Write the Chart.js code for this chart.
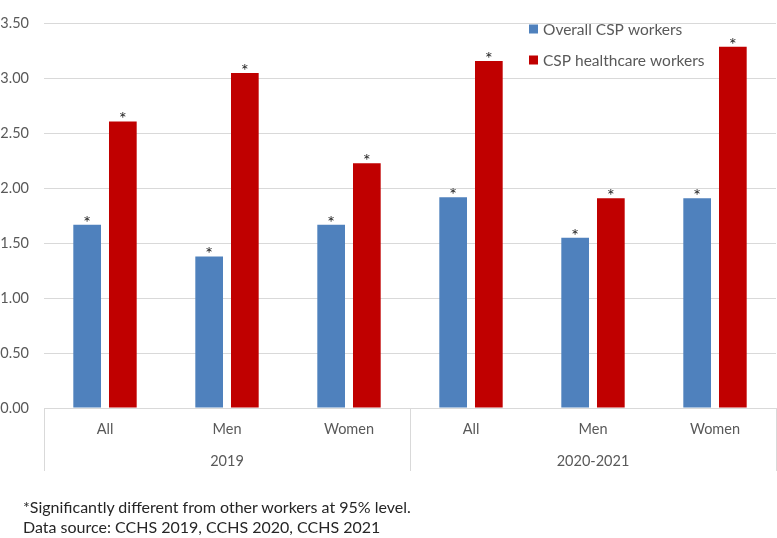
<!DOCTYPE html>
<html>
<head>
<meta charset="utf-8">
<script src="https://cdn.jsdelivr.net/npm/chart.js@4.4.1/dist/chart.umd.min.js"></script>
<style>
  html, body { margin: 0; padding: 0; background: #fff; }
  #wrap { position: relative; width: 777px; height: 538px; overflow: hidden; }
  canvas { position: absolute; left: 0; top: 0; }
  .note { position: absolute; left: 23px; font-family: Lato, "Open Sans", sans-serif; font-size: 16px; color: #262626; white-space: nowrap; line-height: 20px; }
</style>
</head>
<body>
<div id="wrap">
  <canvas id="c" width="777" height="538"></canvas>
  <div class="note" id="n1" style="top:497px">*Significantly different from other workers at 95% level.</div>
  <div class="note" id="n2" style="top:517px">Data source: CCHS 2019, CCHS 2020, CCHS 2021</div>
</div>
<script>
const categories = ['All', 'Men', 'Women', 'All', 'Men', 'Women'];
const groups = ['2019', '2020-2021'];
const groupSizes = [3, 3];
const seriesNames = ['Overall CSP workers', 'CSP healthcare workers'];
const overallCSP = [1.67, 1.38, 1.67, 1.92, 1.55, 1.91];
const healthcareCSP = [2.61, 3.05, 2.23, 3.16, 1.91, 3.29];
const overallMarks = ['*', '*', '*', '*', '*', '*'];
const healthcareMarks = ['*', '*', '*', '*', '*', '*'];
const yMin = 0, yMax = 3.5, yStep = 0.5;

const FONT = 'Lato, "Open Sans", sans-serif';
const GRID = '#d9d9d9';
const TXT = '#595959';

const markPlugin = {
  id: 'marks',
  afterDatasetsDraw(chart) {
    const ctx = chart.ctx;
    ctx.save();
    ctx.fillStyle = '#1a1a1a';
    ctx.font = '18px ' + FONT;
    ctx.textAlign = 'center';
    ctx.textBaseline = 'alphabetic';
    chart.data.datasets.forEach((ds, di) => {
      const meta = chart.getDatasetMeta(di);
      meta.data.forEach((bar, i) => {
        const m = ds.marks[i];
        if (m) ctx.fillText(m, bar.x, bar.y + 4);
      });
    });
    ctx.restore();
  }
};

const groupPlugin = {
  id: 'groups',
  afterDraw(chart) {
    const ctx = chart.ctx;
    const xs = chart.scales.x;
    const top = chart.chartArea.bottom;
    const bottom = top + 63;
    const bounds = [xs.left];
    let idx = 0;
    groupSizes.forEach(n => {
      idx += n;
      if (idx < categories.length) {
        bounds.push((xs.getPixelForValue(idx - 1) + xs.getPixelForValue(idx)) / 2);
      } else {
        bounds.push(xs.right);
      }
    });
    ctx.save();
    ctx.strokeStyle = GRID;
    ctx.lineWidth = 1;
    bounds.forEach(b => {
      const x = Math.round(b) + 0.5;
      ctx.beginPath();
      ctx.moveTo(x, top);
      ctx.lineTo(x, bottom);
      ctx.stroke();
    });
    ctx.fillStyle = TXT;
    ctx.font = '14.5px ' + FONT;
    ctx.textAlign = 'center';
    ctx.textBaseline = 'middle';
    groups.forEach((g, i) => {
      ctx.fillText(g, (bounds[i] + bounds[i + 1]) / 2, top + 53);
    });

    // legend
    const lx = 529, ly = [29, 60];
    ctx.font = '15.5px ' + FONT;
    ctx.textAlign = 'left';
    chart.data.datasets.forEach((ds, i) => {
      ctx.fillStyle = ds.backgroundColor;
      ctx.fillRect(lx, ly[i] - 4.5, 9, 9);
      ctx.fillStyle = TXT;
      ctx.fillText(ds.label, lx + 14, ly[i] + 1);
    });
    ctx.restore();
  }
};

new Chart(document.getElementById('c'), {
  type: 'bar',
  data: {
    labels: categories,
    datasets: [
      { label: seriesNames[0], data: overallCSP, marks: overallMarks, backgroundColor: '#4f81bd',
        categoryPercentage: 0.585, barPercentage: 0.776 },
      { label: seriesNames[1], data: healthcareCSP, marks: healthcareMarks, backgroundColor: '#c00000',
        categoryPercentage: 0.585, barPercentage: 0.776 }
    ]
  },
  options: {
    responsive: false,
    animation: false,
    layout: { padding: { top: 6, right: 1, left: 0, bottom: 0 } },
    plugins: { legend: { display: false }, tooltip: { enabled: false } },
    scales: {
      x: {
        grid: { display: false, drawTicks: false },
        border: { display: true, color: GRID, width: 1 },
        ticks: { color: TXT, font: { family: FONT, size: 14.5 }, padding: 13, maxRotation: 0, autoSkip: false },
        afterFit(s) { s.height = 130; }
      },
      y: {
        min: yMin, max: yMax,
        grid: { color: GRID, drawTicks: false },
        border: { display: false },
        ticks: { stepSize: yStep, color: TXT, font: { family: FONT, size: 14.5 }, padding: 15,
          callback: v => Number(v).toFixed(2) },
        afterFit(s) { s.width = 44; }
      }
    }
  },
  plugins: [markPlugin, groupPlugin]
});
</script>
</body>
</html>
